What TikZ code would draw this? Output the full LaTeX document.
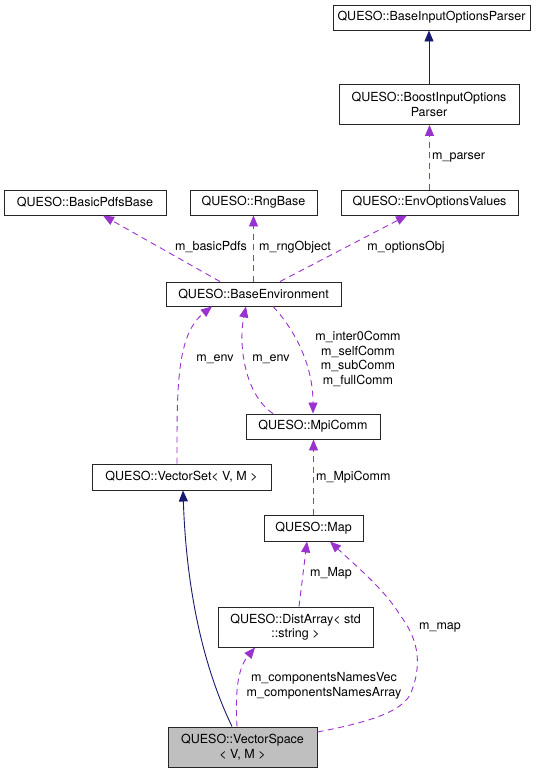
\documentclass[tikz,border=0pt]{standalone}
\usepackage{fontspec}
\setmainfont{TeX Gyre Heros}
\usetikzlibrary{arrows.meta}
\definecolor{edgep}{HTML}{9A32CD}
\definecolor{edgen}{HTML}{191970}
\definecolor{fillg}{HTML}{BFBFBF}
\newcommand{\dfs}{\fontsize{12.5}{14.5}\selectfont}
\begin{document}
\begin{tikzpicture}[x=1pt,y=-1pt,
 box/.style={draw=black!85, line width=0.95pt, inner sep=0pt, align=center, font=\dfs},
 lbl/.style={inner sep=0pt, align=center, font=\dfs},
 uses/.style={draw=edgep, line width=0.9pt, dash pattern=on 6pt off 4.5pt, -{Triangle[length=11pt,width=9pt]}},
 inh/.style={draw=edgen, line width=0.9pt, -{Triangle[length=11pt,width=9pt]}}]
\useasboundingbox[fill=white] (0,0) rectangle (541,773);
\node[box, minimum width=197pt, minimum height=25pt] (bip) at (431.5,17.5) {QUESO::BaseInputOptionsParser};
\node[box, minimum width=180pt, minimum height=40pt] (boost) at (429,104.5) {QUESO::BoostInputOptions\\Parser};
\node[box, minimum width=162pt, minimum height=25pt] (basic) at (85,202.5) {QUESO::BasicPdfsBase};
\node[box, minimum width=127pt, minimum height=25pt] (rng) at (253.5,202.5) {QUESO::RngBase};
\node[box, minimum width=177pt, minimum height=25pt] (envopt) at (429.5,202.5) {QUESO::EnvOptionsValues};
\node[box, minimum width=175pt, minimum height=24pt] (baseenv) at (253.5,294) {QUESO::BaseEnvironment};
\node[box, minimum width=134pt, minimum height=25pt] (mpi) at (313,426.5) {QUESO::MpiComm};
\node[box, minimum width=179pt, minimum height=26pt] (vset) at (181.5,477) {QUESO::VectorSet< V, M >};
\node[box, minimum width=99pt, minimum height=26pt] (map) at (313.5,528) {QUESO::Map};
\node[box, minimum width=155pt, minimum height=40pt] (dist) at (295.5,627) {QUESO::DistArray< std\\::string >};
\node[box, fill=fillg, minimum width=149pt, minimum height=40pt] (vspace) at (242.5,747) {QUESO::VectorSpace\\< V, M >};

\draw[inh] (boost.north) -- (boost.north |- bip.south);
\draw[uses] (envopt.north) -- (envopt.north |- boost.south);
\node[lbl, anchor=west] (lparser) at (432,157) {m\_parser};
\draw[uses] ([xshift=-33.5pt]baseenv.north) -- ([xshift=18pt]basic.south);
\node[lbl] (lbasic) at (211,247) {m\_basicPdfs};
\draw[uses] (baseenv.north) -- (rng.south);
\node[lbl] (lrng) at (295,247) {m\_rngObject};
\draw[uses] ([xshift=26.5pt]baseenv.north) -- ([xshift=-22.5pt]envopt.south);
\node[lbl] (lopt) at (406,247) {m\_optionsObj};
\draw[uses] ([xshift=-4.5pt]vset.north) .. controls (177,390) and (176,335) .. ([xshift=-41.5pt]baseenv.south);
\node[lbl] (lenv1) at (215,359) {m\_env};
\draw[uses] ([xshift=-40pt]mpi.north) .. controls (245,395) and (238,345) .. ([xshift=-7.5pt]baseenv.south);
\node[lbl] (lenv2) at (271,359) {m\_env};
\draw[uses] ([xshift=19.5pt]baseenv.south) .. controls (295,330) and (313,365) .. (mpi.north);
\node[lbl] (lcomm) at (358,359) {m\_inter0Comm\\m\_selfComm\\m\_subComm\\m\_fullComm};
\draw[uses] (map.north) -- (map.north |- mpi.south);
\node[lbl, anchor=west] (lmpi) at (316,477) {m\_MpiComm};
\draw[inh] ([xshift=-10.5pt]vspace.north) .. controls (200,660) and (186,580) .. ([xshift=1.5pt]vset.south);
\draw[uses] ([xshift=3.5pt]dist.north) -- ([xshift=-6.5pt]map.south);
\node[lbl, anchor=west] (lmap) at (310,573) {m\_Map};
\draw[uses] ([xshift=-5.5pt]vspace.north) .. controls (235,690) and (238,668) .. ([xshift=-40.5pt]dist.south);
\node[lbl] (lcomp) at (324,686) {m\_componentsNamesVec\\m\_componentsNamesArray};
\draw[uses] ([yshift=15pt]vspace.east) .. controls (370,722) and (400,712) .. (410,695) .. controls (425,660) and (415,635) .. (400,615) .. controls (385,590) and (355,565) .. ([xshift=16.5pt]map.south);
\node[lbl, anchor=west] (lmmap) at (419,627) {m\_map};
\end{tikzpicture}
\end{document}
